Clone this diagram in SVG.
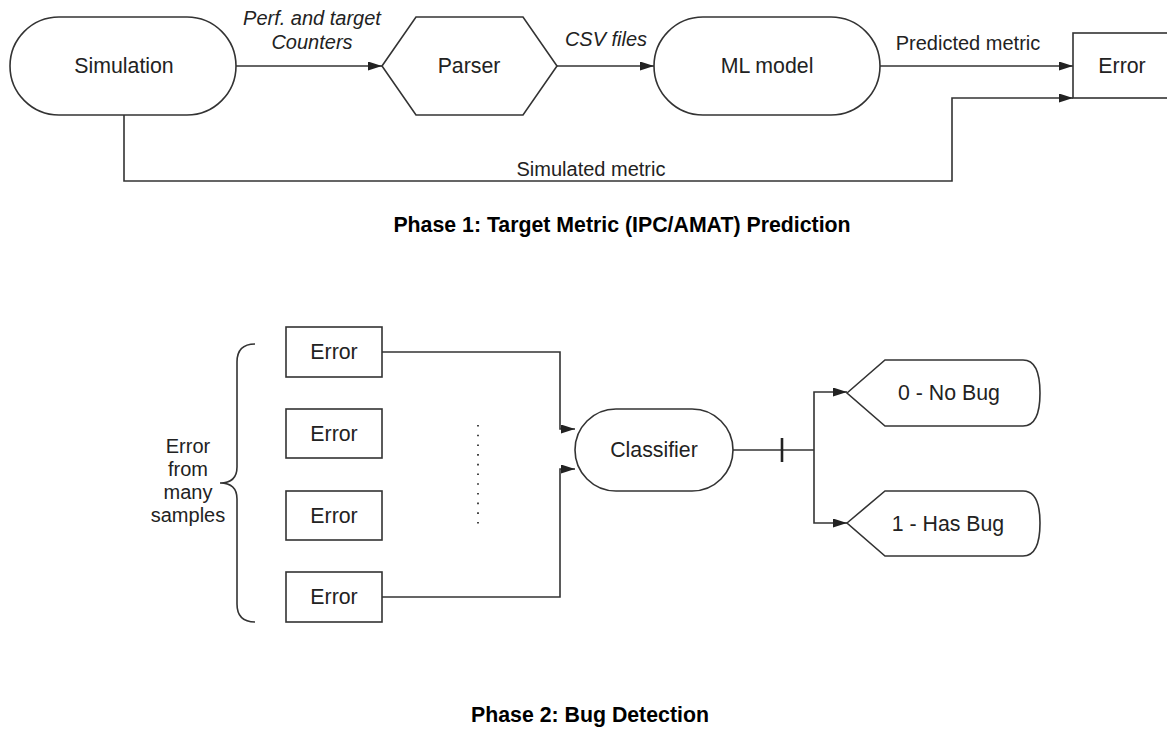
<svg xmlns="http://www.w3.org/2000/svg" width="1167" height="729" viewBox="0 0 1167 729">
<style>
.shape{fill:#fff;stroke:#333;stroke-width:1.6}
.conn{fill:none;stroke:#333;stroke-width:1.6}
text{font-family:"Liberation Sans",Arial,sans-serif;fill:#222}
.node{font-size:21.3px;text-anchor:middle}
.lbl{font-size:20px;text-anchor:middle}
.it{font-style:italic}
.title{font-size:21.3px;font-weight:bold;text-anchor:middle;fill:#000}
</style>
<defs>
<marker id="arr" markerUnits="userSpaceOnUse" markerWidth="14" markerHeight="10" refX="14" refY="4.5" orient="auto">
<path d="M0,0 L14,4.5 L0,9 z" fill="#222"/>
</marker>
</defs>
<rect width="1167" height="729" fill="#fff"/>

<g id="connectors">
<path class="conn" d="M236,66 H382" marker-end="url(#arr)"/>
<path class="conn" d="M557,66 H654" marker-end="url(#arr)"/>
<path class="conn" d="M880,66 H1073" marker-end="url(#arr)"/>
<path class="conn" d="M124,115 V181 H952 V98 H1073" marker-end="url(#arr)"/>
<path class="conn" d="M382,352 H560 V429 H575" marker-end="url(#arr)"/>
<path class="conn" d="M382,597 H560 V469 H575" marker-end="url(#arr)"/>
<path class="conn" d="M733,450 H814"/>
<line x1="782" y1="438" x2="782" y2="462" stroke="#222" stroke-width="2.6"/>
<path class="conn" d="M814,450 V392 H847" marker-end="url(#arr)"/>
<path class="conn" d="M814,450 V523 H847" marker-end="url(#arr)"/>
<text class="lbl it" x="312" y="25">Perf. and target</text>
<text class="lbl it" x="312" y="49">Counters</text>
<text class="lbl it" x="606" y="46">CSV files</text>
<text class="lbl" x="968" y="50">Predicted metric</text>
<text class="lbl" x="591" y="176">Simulated metric</text>
</g>

<g id="simulation">
<rect class="shape" x="10" y="17" width="226" height="98" rx="49" ry="49"/>
<text class="node" x="124" y="73">Simulation</text>
</g>
<g id="parser">
<polygon class="shape" points="382,66 416,17 523,17 557,66 523,115 416,115"/>
<text class="node" x="469" y="73">Parser</text>
</g>
<g id="ml-model">
<rect class="shape" x="654" y="17" width="226" height="98" rx="49" ry="49"/>
<text class="node" x="767" y="73">ML model</text>
</g>
<g id="error-top">
<rect class="shape" x="1073" y="33" width="120" height="65"/>
<text class="node" x="1122" y="73">Error</text>
</g>

<g id="phase1-title">
<text class="title" x="622" y="232">Phase 1: Target Metric (IPC/AMAT) Prediction</text>
</g>

<g id="brace">
<path class="conn" d="M255,344 Q237,344 237,362 L237,467 Q237,483 220,483 Q237,483 237,499 L237,604 Q237,622 255,622"/>
<text class="lbl" x="188" y="453">Error</text>
<text class="lbl" x="188" y="476">from</text>
<text class="lbl" x="188" y="499">many</text>
<text class="lbl" x="188" y="522">samples</text>
</g>

<g id="error-1">
<rect class="shape" x="286" y="327" width="96" height="50"/>
<text class="node" x="334" y="359">Error</text>
</g>
<g id="error-2">
<rect class="shape" x="286" y="409" width="96" height="49"/>
<text class="node" x="334" y="441">Error</text>
</g>
<g id="error-3">
<rect class="shape" x="286" y="491" width="96" height="49"/>
<text class="node" x="334" y="523">Error</text>
</g>
<g id="error-4">
<rect class="shape" x="286" y="572" width="96" height="50"/>
<text class="node" x="334" y="604">Error</text>
</g>

<g id="dots">
<line x1="478" y1="425" x2="478" y2="525" stroke="#333" stroke-width="1.8" stroke-dasharray="1.6 8.1"/>
</g>

<g id="classifier">
<rect class="shape" x="575" y="409" width="158" height="82" rx="41" ry="41"/>
<text class="node" x="654" y="457">Classifier</text>
</g>

<g id="no-bug">
<path class="shape" d="M847,393 L885,360 H1023 C1036,360 1040,375 1040,393 C1040,411 1036,426 1023,426 H885 Z"/>
<text class="node" x="949" y="400">0 - No Bug</text>
</g>
<g id="has-bug">
<path class="shape" d="M847,523 L885,491 H1023 C1036,491 1040,506 1040,523 C1040,541 1036,556 1023,556 H885 Z"/>
<text class="node" x="948" y="531">1 - Has Bug</text>
</g>

<g id="phase2-title">
<text class="title" x="590" y="722">Phase 2: Bug Detection</text>
</g>
</svg>
